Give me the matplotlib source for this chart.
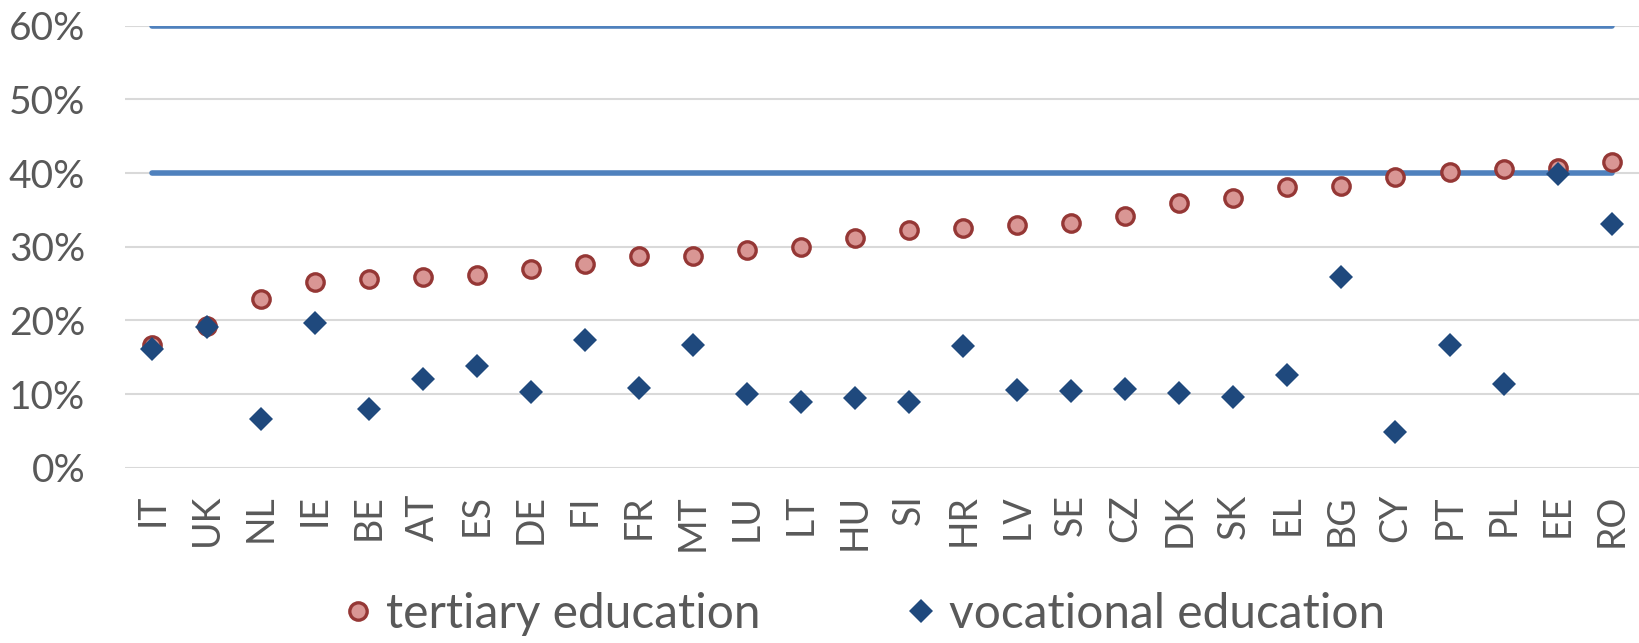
import numpy as np
import matplotlib.pyplot as plt
from matplotlib.ticker import PercentFormatter

plt.rcParams['font.family'] = ['Lato', 'DejaVu Sans']

countries = ['IT', 'UK', 'NL', 'IE', 'BE', 'AT', 'ES', 'DE', 'FI', 'FR', 'MT', 'LU', 'LT', 'HU',
             'SI', 'HR', 'LV', 'SE', 'CZ', 'DK', 'SK', 'EL', 'BG', 'CY', 'PT', 'PL', 'EE', 'RO']
tertiary = [16.7, 19.2, 22.9, 25.2, 25.6, 25.9, 26.1, 27.0, 27.7, 28.7, 28.8, 29.6, 30.0, 31.2,
            32.3, 32.6, 32.9, 33.2, 34.2, 35.9, 36.6, 38.1, 38.3, 39.5, 40.2, 40.5, 40.7, 41.5]
vocational = [16.1, 19.1, 6.6, 19.7, 8.0, 12.0, 13.8, 10.3, 17.3, 10.8, 16.6, 10.0, 8.9, 9.4,
              8.9, 16.5, 10.5, 10.4, 10.7, 10.2, 9.6, 12.6, 25.9, 4.8, 16.7, 11.3, 39.9, 33.1]
targets = [40, 60]

x = np.arange(len(countries))
grey = '#595959'

fig = plt.figure(figsize=(16.4, 6.43), dpi=100)
ax = fig.add_axes([0.0765, 0.2726, 0.9227, 0.6874])

for t in targets:
    ax.plot(x, [t] * len(x), color='#4F81BD', lw=4, solid_capstyle='round', zorder=2)

ax.plot(x, tertiary, 'o', ms=12.5, mfc='#D99694', mec='#953735', mew=2.4,
        label='tertiary education', zorder=3)
ax.plot(x, vocational, 'D', ms=12, color='#1F497D', mec='#1F497D', mew=0,
        label='vocational education', zorder=4)

ax.set_xlim(-0.5, len(x) - 0.5)
ax.set_ylim(0, 60)
ax.set_yticks(np.arange(0, 61, 10))
ax.yaxis.set_major_formatter(PercentFormatter(decimals=0))
ax.set_xticks(x)
ax.set_xticklabels(countries, rotation=90)
ax.tick_params(axis='y', length=0, pad=29, labelsize=28, labelcolor=grey)
ax.tick_params(axis='x', length=0, pad=19, labelsize=27, labelcolor=grey)
ax.grid(axis='y', color='#D9D9D9', lw=1.5, zorder=0)
ax.set_axisbelow(True)
for s in ax.spines.values():
    s.set_visible(False)

fig.legend(loc='center', bbox_to_anchor=(0.527, 0.045), ncol=2, frameon=False,
           fontsize=34.5, labelcolor=grey, handlelength=0.6, handletextpad=0.28,
           columnspacing=3.05, borderaxespad=0)

fig.savefig('out.png', dpi=100)
